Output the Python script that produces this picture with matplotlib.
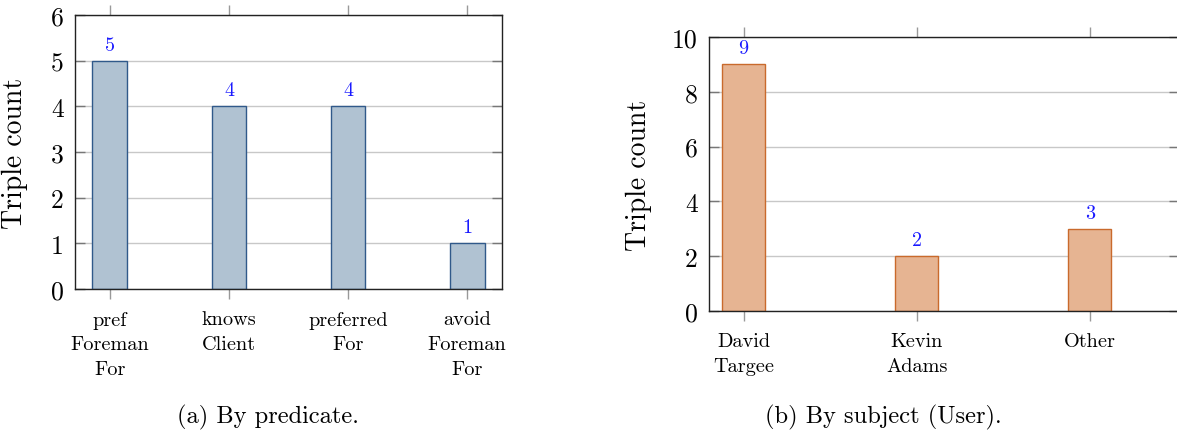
import matplotlib
matplotlib.use("Agg")
import matplotlib.pyplot as plt

# data
predicates = ["pref\nForeman\nFor", "knows\nClient", "preferred\nFor", "avoid\nForeman\nFor"]
predicate_counts = [5, 4, 4, 1]

subjects = ["David\nTargee", "Kevin\nAdams", "Other"]
subject_counts = [9, 2, 3]

left_yticks = [0, 1, 2, 3, 4, 5, 6]
right_yticks = [0, 2, 4, 6, 8, 10]

plt.rcParams['font.family'] = ['cmr10', 'DejaVu Serif']
plt.rcParams['axes.unicode_minus'] = False


def style_axes(ax, yticks):
    ax.set_axisbelow(True)
    ax.grid(axis='y', color='#c8c8c8', linewidth=1.0)
    ax.set_yticks(yticks, labels=[str(t) for t in yticks])
    ax.set_ylim(yticks[0], yticks[-1])
    ax.tick_params(axis='y', direction='in', left=True, right=True,
                   length=7, width=1.0, color='#777777', pad=8,
                   labelsize=18.5)
    ax.tick_params(axis='x', direction='out', top=True, bottom=True,
                   length=7.5, width=1.0, color='#999999', pad=8,
                   labelsize=14.6)
    for lab in ax.get_xticklabels():
        lab.set_linespacing(1.5)
    for sp in ax.spines.values():
        sp.set_linewidth(1.0)
        sp.set_color('#222222')
    ax.set_ylabel("Triple count", fontsize=20)


def draw_bars(ax, labels, counts, width, face, edge):
    xs = list(range(len(labels)))
    ax.bar(xs, counts, width=width, color=face, edgecolor=edge, linewidth=1.0)
    ax.set_xticks(xs, labels=labels)
    for x, c in zip(xs, counts):
        ax.annotate(str(c), (x, c), xytext=(0, 5), textcoords='offset points',
                    ha='center', va='bottom', color='#1a1aff', fontsize=14.5)


fig = plt.figure(figsize=(11.77, 4.35), dpi=100)

ax1 = fig.add_axes([75 / 1177, 145 / 435, 427 / 1177, 274 / 435])
draw_bars(ax1, predicates, predicate_counts, 0.294, '#b0c2d2', '#30598a')
ax1.set_xlim(-0.294, 3.294)
style_axes(ax1, left_yticks)
ax1.yaxis.set_label_coords(-0.110, 0.5)

ax2 = fig.add_axes([709 / 1177, 123 / 435, 470 / 1177, 274 / 435])
draw_bars(ax2, subjects, subject_counts, 0.25, '#e6b492', '#c96a2c')
ax2.set_xlim(-0.2, 2.516)
style_axes(ax2, right_yticks)
ax2.yaxis.set_label_coords(-0.121, 0.5)

fig.text(268 / 1177, 1 - 417 / 435, "(a) By predicate.", ha='center', va='center', fontsize=17.6)
fig.text(883 / 1177, 1 - 417 / 435, "(b) By subject (User).", ha='center', va='center', fontsize=17.6)

fig.savefig("out.png", dpi=100)
